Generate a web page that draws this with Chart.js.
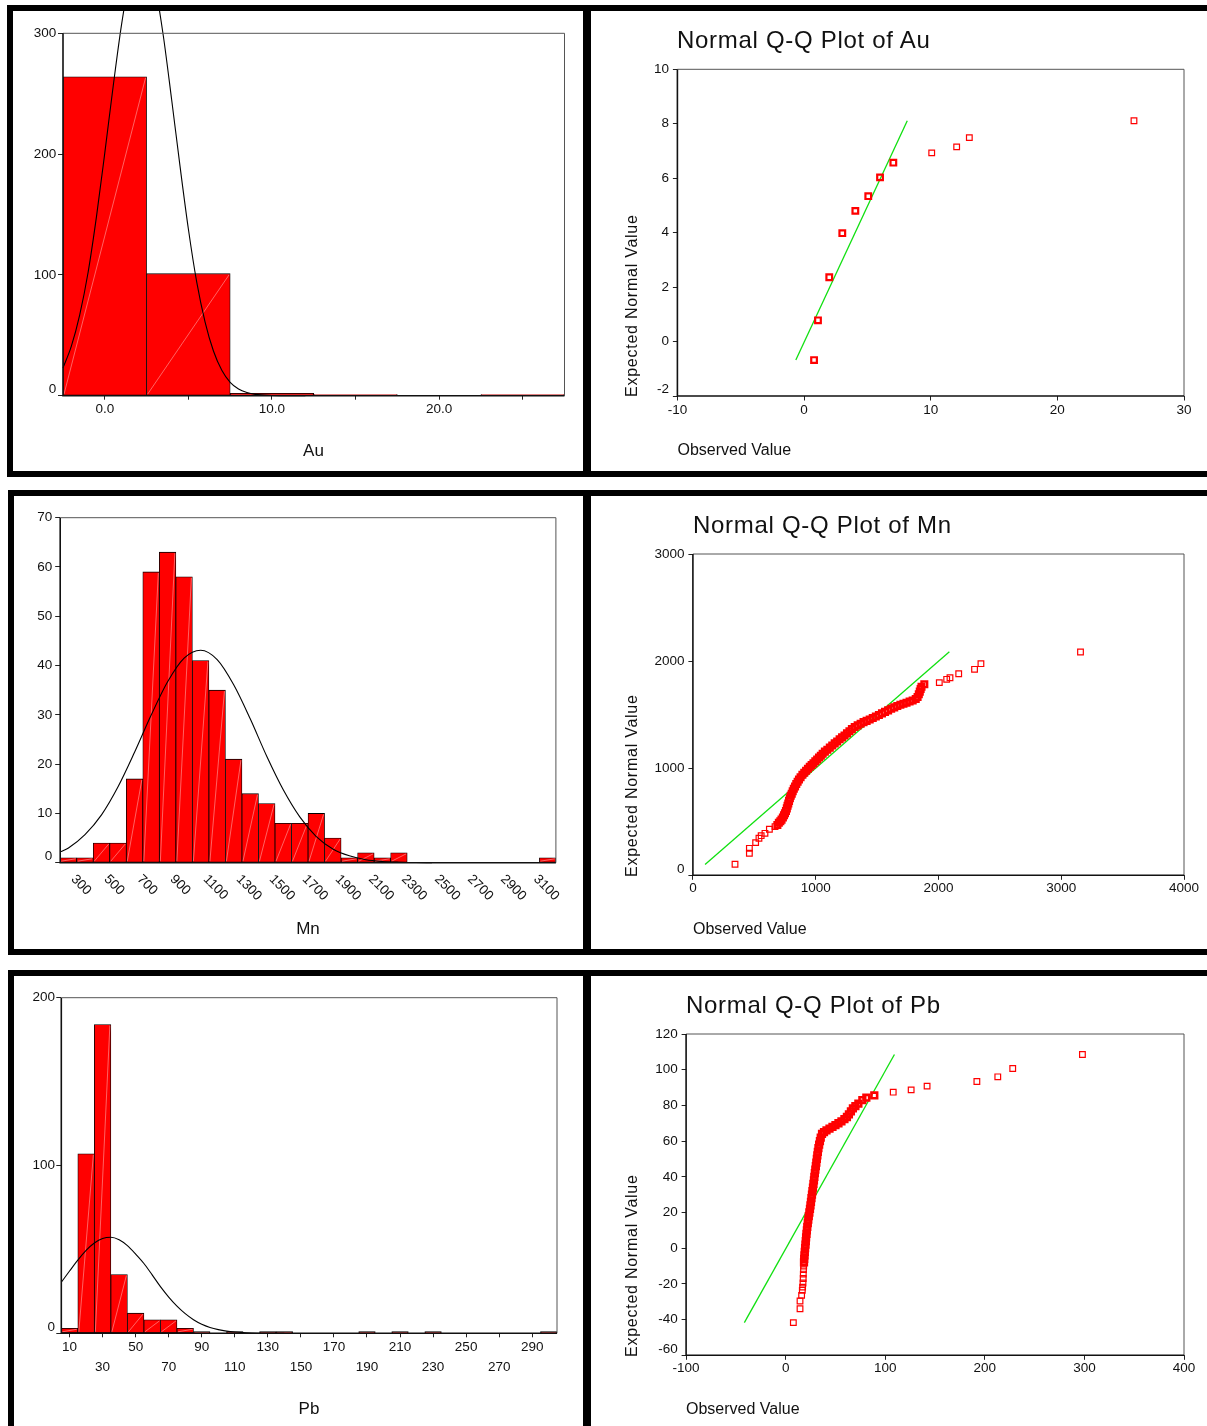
<!DOCTYPE html>
<html><head><meta charset="utf-8">
<script src="https://cdn.jsdelivr.net/npm/chart.js@4.4.1/dist/chart.umd.min.js"></script>
<style>
html,body{margin:0;padding:0;background:#fff;}
body{width:1207px;height:1426px;position:relative;overflow:hidden;font-family:"Liberation Sans",Arial,Helvetica,sans-serif;color:#111;}
.frame{position:absolute;border:6px solid #000;box-sizing:border-box;}
canvas{position:absolute;}
.t{position:absolute;white-space:nowrap;line-height:1;}
.title{font-size:24px;letter-spacing:0.7px;}
.xt{font-size:16px;}
.ht{font-size:17px;transform:translateX(-50%);}
.yt{font-size:16px;letter-spacing:0.75px;transform-origin:0 0;transform:rotate(-90deg);}
</style></head><body>
<div class="frame" style="left:7px;top:5px;width:582px;height:472px;"></div>
<div class="frame" style="left:585px;top:5px;width:640px;height:472px;"></div>
<div class="frame" style="left:8px;top:490px;width:581px;height:465px;"></div>
<div class="frame" style="left:585px;top:490px;width:640px;height:465px;"></div>
<div class="frame" style="left:8px;top:970px;width:581px;height:500px;"></div>
<div class="frame" style="left:585px;top:970px;width:640px;height:500px;"></div>

<canvas id="auHist"></canvas>
<canvas id="auQQ"></canvas>
<canvas id="mnHist"></canvas>
<canvas id="mnQQ"></canvas>
<canvas id="pbHist"></canvas>
<canvas id="pbQQ"></canvas>

<div class="t ht" style="left:313.5px;top:441.7px;">Au</div>
<div class="t ht" style="left:308px;top:919.7px;">Mn</div>
<div class="t ht" style="left:309px;top:1399.7px;">Pb</div>

<div class="t title" style="left:677px;top:27.7px;">Normal Q-Q Plot of Au</div>
<div class="t title" style="left:693px;top:512.9px;">Normal Q-Q Plot of Mn</div>
<div class="t title" style="left:686px;top:993px;">Normal Q-Q Plot of Pb</div>

<div class="t xt" style="left:677.5px;top:442.2px;">Observed Value</div>
<div class="t xt" style="left:693px;top:921.2px;">Observed Value</div>
<div class="t xt" style="left:686px;top:1401.2px;">Observed Value</div>

<div class="t yt" style="left:624px;top:397px;">Expected Normal Value</div>
<div class="t yt" style="left:624px;top:876.7px;">Expected Normal Value</div>
<div class="t yt" style="left:624px;top:1356.7px;">Expected Normal Value</div>

<script>
// ---------------- Au histogram ----------------
const AU_BIN_CENTERS = [0, 5, 10, 15, 20, 25];
const AU_COUNTS = [264, 101, 2, 1, 0, 1];
const AU_CURVE_X = [-2.5,-2,-1.5,-1,-0.5,0,0.5,1,1.5,2,2.5,3,3.5,4,4.5,5,5.5,6,6.5,7,7.5,8,8.5,9,10,11,12];
const AU_CURVE_Y = [23,41,67,102,148,201,256,307,346,366,364,340,298,245,190,138,94,61,37,21,11,5.5,2.6,1.1,0.2,0,0];
const AU_X_TICKS = [0, 5, 10, 15, 20, 25];
const AU_X_TICK_LABELS = ['0.0', '', '10.0', '', '20.0', ''];

// ---------------- Au Q-Q ----------------
const AU_QQ_OBSERVED = [0.79, 1.10, 1.99, 3.02, 4.05, 5.07, 6.00, 7.05, 10.08, 12.05, 13.05, 26.05];
const AU_QQ_EXPECTED = [-0.68, 0.78, 2.36, 3.98, 4.80, 5.34, 6.03, 6.57, 6.93, 7.15, 7.49, 8.11];
const AU_QQ_LINE_X = [-0.65, 8.15];
const AU_QQ_LINE_Y = [-0.68, 8.11];

// ---------------- Mn histogram ----------------
const MN_BIN_CENTERS = [300,400,500,600,700,800,900,1000,1100,1200,1300,1400,1500,1600,1700,1800,1900,2000,2100,2200,2300,2400,2500,2600,2700,2800,2900,3000,3100,3200];
const MN_COUNTS = [1,1,4,4,17,59,63,58,41,35,21,14,12,8,8,10,5,1,2,1,2,0,0,0,0,0,0,0,0,1];
const MN_CURVE_X = [250,300,400,500,600,700,800,900,1000,1100,1200,1300,1400,1500,1600,1700,1800,1900,2000,2100,2200,2300,2400,2500];
const MN_CURVE_Y = [2.2,3.0,5.7,9.7,15.4,22.4,29.9,36.7,41.5,43.1,41.2,36.1,29.2,21.6,14.8,9.3,5.3,2.8,1.4,0.6,0.25,0.1,0.03,0];
const MN_X_TICKS = [300,500,700,900,1100,1300,1500,1700,1900,2100,2300,2500,2700,2900,3100];
const MN_X_TICK_LABELS = ['300','500','700','900','1100','1300','1500','1700','1900','2100','2300','2500','2700','2900','3100'];

// ---------------- Mn Q-Q ----------------
const MN_QQ_OBSERVED = [343,460,460,511,538,556,587,623,669,
  688,700,712,722,733,742,750,758,765,771,777,783,790,797,805,813,822,832,842,853,864,877,892,907,922,937,952,967,982,997,
  1012,1027,1042,1057,1075,1095,1115,1135,1155,1175,1195,1215,1235,1255,1275,1295,1318,1342,1366,1390,1415,1440,1465,1490,
  1515,1540,1565,1590,1615,1640,1665,1690,1715,1740,1765,1790,1815,1830,1840,1848,1855,1862,1885,
  2007,2067,2094,2165,2294,2346,3157];
const MN_QQ_EXPECTED = [103,206,252,305,346,370,392,430,455,
  470,490,505,520,540,560,580,600,625,650,670,695,720,742,762,785,808,830,852,874,895,915,938,958,976,995,1013,1030,1047,1065,
  1082,1100,1117,1135,1155,1172,1192,1212,1232,1250,1270,1288,1306,1325,1345,1365,1385,1400,1415,1430,1442,1455,1468,1482,
  1497,1512,1526,1540,1555,1568,1580,1592,1602,1612,1622,1633,1647,1665,1690,1715,1740,1760,1783,
  1799,1830,1845,1882,1923,1976,2085];
const MN_QQ_LINE_X = [99, 2089];
const MN_QQ_LINE_Y = [100, 2088];

// ---------------- Pb histogram ----------------
const PB_BIN_CENTERS = [10,20,30,40,50,60,70,80,90,100,110,120,130,140,150,160,170,180,190,200,210,220,230,240,250,260,270,280,290,300];
const PB_COUNTS = [3,107,184,35,12,8,8,3,1,0,1,0,1,1,0,0,0,0,1,0,1,0,1,0,0,0,0,0,0,1];
const PB_CURVE_X = [5,10,15,20,25,30,35,40,45,50,55,60,65,70,75,80,85,90,95,100,105,110,115,120,130,140];
const PB_CURVE_Y = [30.4,37.1,43.6,49.4,53.8,56.5,57.2,55.7,52.2,47.2,41.6,34.8,27.8,21.6,16.2,11.7,8.1,5.4,3.5,2.2,1.3,0.74,0.4,0.22,0.05,0];
const PB_X_TICKS = [10,30,50,70,90,110,130,150,170,190,210,230,250,270,290];
const PB_X_TICK_LABELS = [['10',''],['','30'],['50',''],['','70'],['90',''],['','110'],['130',''],['','150'],['170',''],['','190'],['210',''],['','230'],['250',''],['','270'],['290','']];

// ---------------- Pb Q-Q ----------------
const PB_QQ_OBSERVED = [7.7,14.4,14.4,16.0,16.7,17.0,17.4,17.6,17.7,17.9,18.1,
  18.4,18.6,18.9,19.2,19.5,19.9,20.2,20.5,20.9,21.3,21.7,22.2,22.7,23.2,23.8,24.4,24.9,25.4,25.9,26.4,26.9,27.4,27.9,28.4,28.8,
  29.3,29.8,30.3,30.8,31.3,31.8,32.3,32.9,33.6,34.4,35.2,36.5,38.5,
  41,44,47,50,53,56,59,61.5,63.5,65.5,67.5,70,73,77,81,89,
  108,126,142,192,213,228,298];
const PB_QQ_EXPECTED = [-41.7,-33.9,-29.6,-26.4,-23.6,-21.8,-19.5,-17,-14.5,-12,-10,
  -8,-6,-4,-2,0,2,4,6,8,10,12,14,16,18,20,22,24,26,28,30,32,34,36,38,40,
  42,44,46,48,50,52,54,56,58,60,62,64,65,
  66,67,68,69,70,71,72.3,73.5,75,76.7,78.3,79.6,81,83,84.3,85.6,
  87.4,88.7,90.8,93.4,96,100.7,108.5];
const PB_QQ_LINE_X = [-41.5, 109.2];
const PB_QQ_LINE_Y = [-41.7, 108.5];

// ---------------- helpers ----------------
const FONT = '"Liberation Sans", Arial, Helvetica, sans-serif';
Chart.defaults.font.family = FONT;
Chart.defaults.font.size = 13.5;
Chart.defaults.color = '#111';

const pts = (xs, ys) => xs.map((x, i) => ({x: x, y: ys[i]}));

const frameBox = {
  id: 'frameBox',
  afterDraw(chart) {
    const ctx = chart.ctx, a = chart.chartArea;
    ctx.save();
    ctx.strokeStyle = '#555'; ctx.lineWidth = 1;
    ctx.beginPath();
    ctx.moveTo(a.left, a.top); ctx.lineTo(a.right, a.top); ctx.lineTo(a.right, a.bottom);
    ctx.stroke();
    ctx.strokeStyle = '#111'; ctx.lineWidth = 1.6;
    ctx.beginPath();
    ctx.moveTo(a.left, a.top); ctx.lineTo(a.left, a.bottom); ctx.lineTo(a.right, a.bottom);
    ctx.stroke();
    ctx.restore();
  }
};

const raiseBottomLabel = {
  id: 'raiseBottomLabel',
  beforeDraw(chart) {
    const s = chart.scales.y;
    if (!s || !s.getLabelItems) return;
    const items = s.getLabelItems();
    if (items && items.length && !items[0]._raised && items[0].options && items[0].options.translation) {
      items[0]._raised = true;
      items[0].options.translation[1] -= 6.5;
    }
  }
};

const barDiag = {
  id: 'barDiag',
  afterDatasetDraw(chart, args) {
    const meta = args.meta;
    if (meta.type !== 'bar') return;
    const ctx = chart.ctx;
    ctx.save();
    ctx.strokeStyle = 'rgba(255,235,235,0.6)';
    ctx.lineWidth = 0.7;
    meta.data.forEach(el => {
      const p = el.getProps(['x', 'y', 'base', 'width'], true);
      if (Math.abs(p.base - p.y) < 4) return;
      ctx.beginPath();
      ctx.moveTo(p.x - p.width / 2 + 1, p.base - 1);
      ctx.lineTo(p.x + p.width / 2 - 1, p.y + 1);
      ctx.stroke();
    });
    ctx.restore();
  }
};

const mnRotLabels = {
  id: 'mnRotLabels',
  afterDraw(chart) {
    const s = chart.scales.x, ctx = chart.ctx;
    ctx.save();
    ctx.font = '13.5px ' + FONT;
    ctx.fillStyle = '#111';
    ctx.textAlign = 'left';
    ctx.textBaseline = 'alphabetic';
    MN_X_TICKS.forEach((v, i) => {
      ctx.save();
      ctx.translate(s.getPixelForValue(v) + 2, chart.chartArea.bottom + 17);
      ctx.rotate(Math.PI / 4);
      ctx.fillText(MN_X_TICK_LABELS[i], 0, 0);
      ctx.restore();
    });
    ctx.restore();
  }
};

function axis(opts) {
  const o = {
    type: 'linear', min: opts.min, max: opts.max, offset: false,
    ticks: {padding: opts.pad, color: '#111', autoSkip: false, maxRotation: 0, minRotation: 0,
            includeBounds: false, callback: opts.cb || (v => String(v))},
    grid: {drawOnChartArea: false, drawTicks: opts.drawTicks !== false, tickLength: opts.tl,
           color: '#222', tickColor: '#222', offset: false, display: opts.grid !== false},
    border: {display: false}
  };
  if (opts.step) o.ticks.stepSize = opts.step;
  if (opts.tickValues) o.afterBuildTicks = s => { s.ticks = opts.tickValues.map(v => ({value: v})); };
  if (opts.font) o.ticks.font = opts.font;
  if (opts.showTicks === false) o.ticks.display = false;
  return o;
}

function makeChart(id, box, area, type, datasets, xOpts, yOpts, extraPlugins) {
  const cv = document.getElementById(id);
  cv.width = box.w; cv.height = box.h;
  cv.style.left = box.x + 'px'; cv.style.top = box.y + 'px';
  cv.style.width = box.w + 'px'; cv.style.height = box.h + 'px';
  const yW = area.l - box.x, xH = box.y + box.h - area.b;
  xOpts.afterFit = s => { s.height = xH; };
  yOpts.afterFit = s => { s.width = yW; };
  return new Chart(cv, {
    type: type,
    data: {datasets: datasets},
    options: {
      responsive: false, animation: false, events: [],
      layout: {autoPadding: false, padding: {left: 0, bottom: 0, top: area.t - box.y, right: box.x + box.w - area.r}},
      plugins: {legend: {display: false}, tooltip: {enabled: false}, title: {display: false}},
      scales: {x: xOpts, y: yOpts}
    },
    plugins: [frameBox, raiseBottomLabel].concat(extraPlugins || [])
  });
}

function histDatasets(centers, counts, cx, cy) {
  return [
    {type: 'line', data: pts(cx, cy), borderColor: '#000', borderWidth: 1.1, pointRadius: 0,
     fill: false, tension: 0.4, cubicInterpolationMode: 'monotone', clip: false, order: 1},
    {type: 'bar', data: pts(centers, counts), backgroundColor: '#ff0000', borderColor: '#000',
     borderWidth: 0.8, borderSkipped: false, barPercentage: 1, categoryPercentage: 1, grouped: false, order: 2}
  ];
}

function qqDatasets(ox, oy, lx, ly, bwFn) {
  return [
    {type: 'scatter', data: pts(ox, oy), pointStyle: 'rect', pointRadius: 4,
     pointBorderWidth: bwFn || 1.3, pointBorderColor: '#ff0000', pointBackgroundColor: 'rgba(0,0,0,0)',
     showLine: false, order: 1, clip: false},
    {type: 'scatter', data: pts(lx, ly), showLine: true, borderColor: '#10e010', borderWidth: 1.3,
     pointRadius: 0, fill: false, order: 2}
  ];
}

// Au histogram
makeChart('auHist', {x: 13, y: 11, w: 570, h: 460}, {l: 63, t: 33.3, r: 564.5, b: 395.7}, 'bar',
  histDatasets(AU_BIN_CENTERS, AU_COUNTS, AU_CURVE_X, AU_CURVE_Y),
  axis({min: -2.5, max: 27.5, tickValues: AU_X_TICKS, cb: (v, i) => AU_X_TICK_LABELS[i], tl: 4, pad: 1.2}),
  axis({min: 0, max: 300, step: 100, tl: 5, pad: 1.7}),
  [barDiag]);

// Au Q-Q
makeChart('auQQ', {x: 591, y: 11, w: 616, h: 460}, {l: 677.4, t: 69.3, r: 1184, b: 396}, 'scatter',
  qqDatasets(AU_QQ_OBSERVED, AU_QQ_EXPECTED, AU_QQ_LINE_X, AU_QQ_LINE_Y, ctx => (ctx.dataIndex < 8 ? 2.2 : 1.2)),
  axis({min: -10, max: 30, step: 10, tl: 4.5, pad: 1.2}),
  axis({min: -2, max: 10, step: 2, tl: 4.5, pad: 3.9}));

// Mn histogram
makeChart('mnHist', {x: 14, y: 496, w: 569, h: 453}, {l: 60.2, t: 517.7, r: 555.9, b: 862.7}, 'bar',
  histDatasets(MN_BIN_CENTERS, MN_COUNTS, MN_CURVE_X, MN_CURVE_Y),
  axis({min: 250, max: 3250, tickValues: MN_X_TICKS, tl: 4, pad: 1, grid: false, showTicks: false}),
  axis({min: 0, max: 70, step: 10, tl: 5, pad: 3}),
  [barDiag, mnRotLabels]);

// Mn Q-Q (dense band drawn with heavier outlines, as in the reference)
makeChart('mnQQ', {x: 591, y: 496, w: 616, h: 453}, {l: 692.9, t: 554, r: 1184, b: 875.3}, 'scatter',
  qqDatasets(MN_QQ_OBSERVED, MN_QQ_EXPECTED, MN_QQ_LINE_X, MN_QQ_LINE_Y,
    ctx => (ctx.dataIndex >= 9 && ctx.dataIndex <= 81 ? 2.4 : 1.2)),
  axis({min: 0, max: 4000, step: 1000, tl: 4.5, pad: 0.6}),
  axis({min: 0, max: 3000, step: 1000, tl: 4.5, pad: 3.9}));

// Pb histogram
makeChart('pbHist', {x: 14, y: 976, w: 569, h: 450}, {l: 61.3, t: 997.7, r: 557, b: 1333.3}, 'bar',
  histDatasets(PB_BIN_CENTERS, PB_COUNTS, PB_CURVE_X, PB_CURVE_Y),
  axis({min: 5, max: 305, tickValues: PB_X_TICKS, cb: (v, i) => PB_X_TICK_LABELS[i], tl: 4, pad: 0,
        font: {size: 13.5, lineHeight: 20 / 13.5}}),
  axis({min: 0, max: 200, step: 100, tl: 5, pad: 1.2}),
  [barDiag]);

// Pb Q-Q
makeChart('pbQQ', {x: 591, y: 976, w: 616, h: 450}, {l: 686.1, t: 1034, r: 1184, b: 1355.3}, 'scatter',
  qqDatasets(PB_QQ_OBSERVED, PB_QQ_EXPECTED, PB_QQ_LINE_X, PB_QQ_LINE_Y,
    ctx => (ctx.dataIndex >= 11 && ctx.dataIndex <= 64 ? 2.6 : 1.2)),
  axis({min: -100, max: 400, step: 100, tl: 4.5, pad: 0.6}),
  axis({min: -60, max: 120, step: 20, tl: 4.5, pad: 3.9}));
</script>
</body></html>
